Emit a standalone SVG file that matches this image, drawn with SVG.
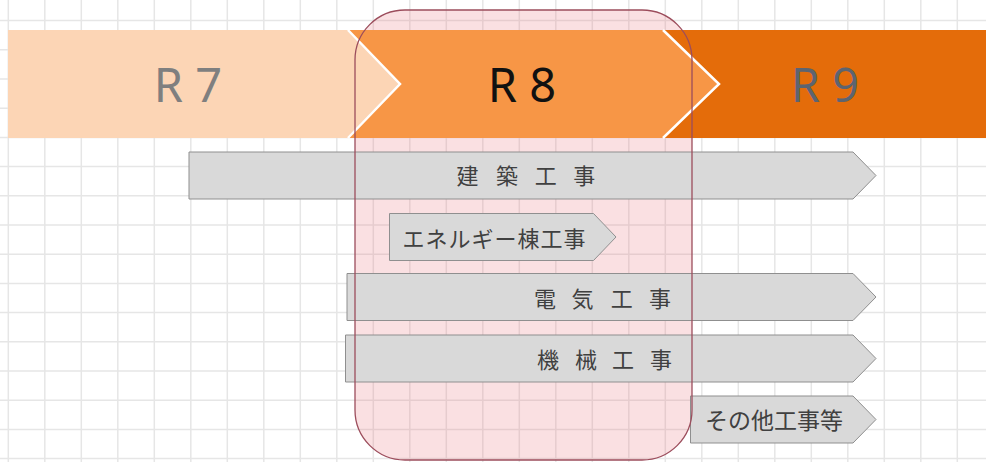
<svg xmlns="http://www.w3.org/2000/svg" width="986" height="462" viewBox="0 0 986 462">
<style>
.grid{stroke:#e6e6e6;stroke-width:1.5;fill:none}
.bar{fill:#d9d9d9;stroke:#8f8f8f;stroke-width:1}
.jp{font-family:"Noto Sans CJK JP","Noto Sans",sans-serif;fill:#404040;dominant-baseline:central}
.yr{font-family:"Noto Sans","Open Sans",sans-serif;font-size:47px;text-anchor:middle}
.sep{fill:none;stroke:#ffffff;stroke-width:2.5}
</style>
<rect width="986" height="462" fill="#ffffff"/>
<path class="grid" d="M8.3,0V462M44.8,0V462M81.3,0V462M117.8,0V462M154.3,0V462M190.8,0V462M227.3,0V462M263.8,0V462M300.3,0V462M336.8,0V462M373.3,0V462M409.8,0V462M446.3,0V462M482.8,0V462M519.3,0V462M555.8,0V462M592.3,0V462M628.8,0V462M665.3,0V462M701.8,0V462M738.3,0V462M774.8,0V462M811.3,0V462M847.8,0V462M884.3,0V462M920.8,0V462M957.3,0V462M0,20.6H986M0,49.8H986M0,79H986M0,108.2H986M0,137.4H986M0,166.6H986M0,195.8H986M0,225H986M0,254.2H986M0,283.4H986M0,312.6H986M0,341.8H986M0,371H986M0,400.2H986M0,429.4H986M0,458.6H986"/>
<rect id="r8-highlight-fill" x="355" y="10" width="337" height="450" rx="50" fill="#e8707c" fill-opacity="0.22"/>
<g id="r7">
<polygon points="8,30 348,30 400,84 348,138 8,138" fill="#fcd5b5"/>
<text class="yr" x="188" y="102" fill="#7f7f7f">R 7</text>
</g>
<g id="r8">
<polygon points="348,30 663,30 719,84 663,138 348,138 400,84" fill="#f79646"/>
<text class="yr" x="522" y="102" fill="#111111">R 8</text>
</g>
<g id="r9">
<polygon points="663,30 986,30 986,138 663,138 719,84" fill="#e46c0a"/>
<text class="yr" x="825" y="102" fill="#5d6470">R 9</text>
</g>
<polyline class="sep" points="348,30 400,84 348,138"/>
<polyline class="sep" points="663,30 719,84 663,138"/>
<g id="kenchiku">
<path class="bar" d="M189,152H853L876,175.5L853,199H189Z"/>
<text class="jp" font-size="22" y="174" x="456.5 496 534.7 573.3">建築工事</text>
</g>
<g id="energy">
<path class="bar" d="M389.5,213.5H593.5L616,237L593.5,260.5H389.5Z"/>
<text class="jp" font-size="22" letter-spacing="1" x="402.5" y="237">エネルギー棟工事</text>
</g>
<g id="denki">
<path class="bar" d="M347,273.5H853L876,297L853,320.5H347Z"/>
<text class="jp" font-size="22" y="297" x="534 571.5 610.7 649">電気工事</text>
</g>
<g id="kikai">
<path class="bar" d="M345.5,335H853L876,358.5L853,382H345.5Z"/>
<text class="jp" font-size="22" y="358" x="537 575 612 650">機械工事</text>
</g>
<g id="sonota">
<path class="bar" d="M690.5,396H853L876,419.5L853,443H690.5Z"/>
<text class="jp" font-size="23" x="705" y="418.5">その他工事等</text>
</g>
<rect id="r8-highlight" x="355" y="10" width="337" height="450" rx="50" fill="none" stroke="#9c4d5c" stroke-width="1.3"/>
</svg>
